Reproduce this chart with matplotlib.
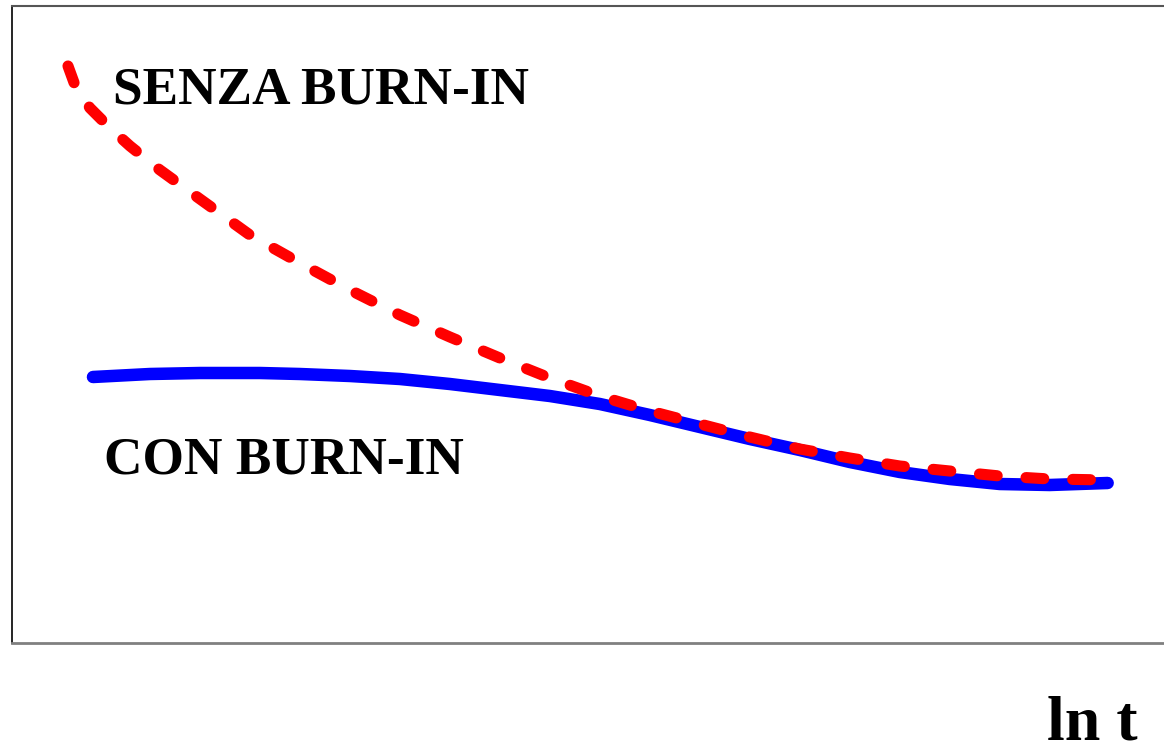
import numpy as np
import matplotlib
import matplotlib.pyplot as plt

matplotlib.use('agg')

# ln t (arbitrary units) and failure rate (arbitrary units)
x_senza = [0.56, 0.64, 0.78, 0.98, 1.18, 1.48, 1.88, 2.38, 2.88, 3.38, 3.88, 4.38, 4.88,
           5.38, 5.88, 6.38, 6.88, 7.38, 7.88, 8.38, 8.88, 9.38, 9.88, 10.38, 10.96]
y_senza = [5.77, 5.55, 5.35, 5.15, 4.97, 4.73, 4.44, 4.08, 3.80, 3.53, 3.28, 3.06, 2.85,
           2.65, 2.47, 2.32, 2.19, 2.06, 1.94, 1.85, 1.77, 1.72, 1.67, 1.64, 1.63]

x_con = [0.81, 1.38, 1.88, 2.48, 2.88, 3.38, 3.88, 4.38, 4.88, 5.38, 5.88, 6.38, 6.88,
         7.38, 7.88, 8.38, 8.88, 9.38, 9.88, 10.38, 10.96]
y_con = [2.66, 2.69, 2.70, 2.70, 2.69, 2.67, 2.64, 2.59, 2.53, 2.47, 2.39, 2.28, 2.16,
         2.04, 1.93, 1.81, 1.71, 1.64, 1.59, 1.58, 1.60]

label_senza = "SENZA BURN-IN"
label_con = "CON BURN-IN"
xlabel = "ln t"

W, H = 1164, 750
fig = plt.figure(figsize=(W/100, H/100), dpi=100)
ax = fig.add_axes([12/W, (H-643)/H, (W-12)/W + 0.01, (643-6)/H])
ax.set_xlim(0, 11.64)
ax.set_ylim(0, 6.37)

ax.plot(x_con, y_con, c='blue', linewidth=9, solid_capstyle='round', solid_joinstyle='round', zorder=2)
line, = ax.plot(x_senza, y_senza, c='red', linewidth=8, dash_capstyle='round', zorder=3)
line.set_dashes([1.6, 2.6])

ax.set_xticks([])
ax.set_yticks([])
ax.spines['right'].set_visible(False)
ax.spines['left'].set_color('black')
ax.spines['left'].set_linewidth(1.2)
ax.spines['bottom'].set_color('#808080')
ax.spines['bottom'].set_linewidth(2)
ax.spines['top'].set_color('#555555')
ax.spines['top'].set_linewidth(1.5)

font = dict(family='Liberation Serif', weight='bold', color='black')
fig.text(113/W, 1 - 104/H, label_senza, fontsize=38.3, ha='left', va='baseline', **font)
fig.text(104/W, 1 - 473/H, label_con, fontsize=38.3, ha='left', va='baseline', **font)
fig.text(1047/W, 1 - 740/H, xlabel, fontsize=46, ha='left', va='baseline', **font)

plt.savefig('out.png', dpi=100)
plt.close()
